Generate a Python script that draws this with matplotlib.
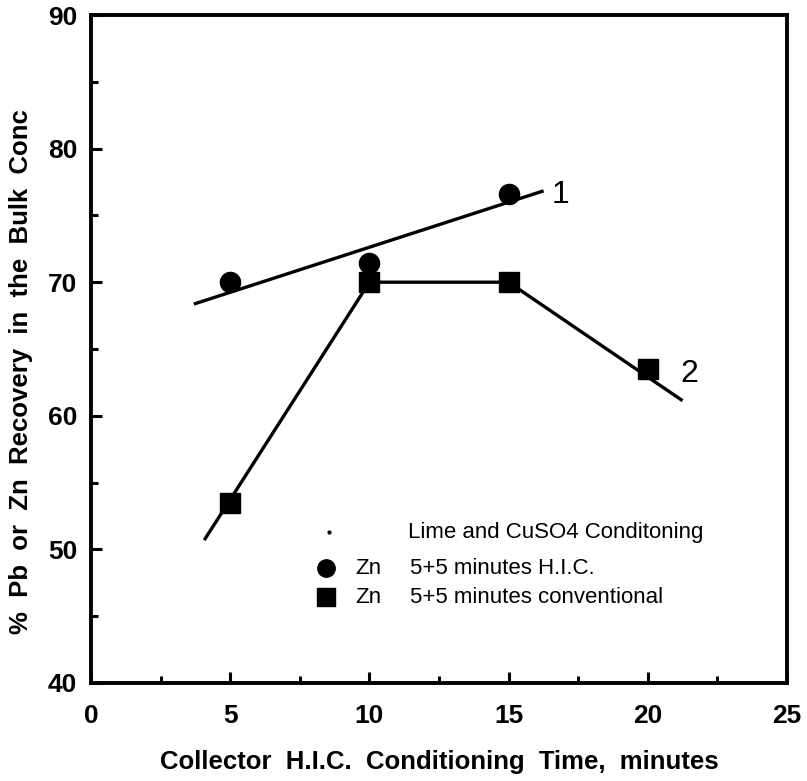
import matplotlib

matplotlib.use("Agg")
import matplotlib.pyplot as plt
from matplotlib.ticker import MultipleLocator

plt.rcParams["font.family"] = ["Liberation Sans", "DejaVu Sans"]

# H.I.C. conditioning (curve 1): measured points and drawn trend line
hic_time = [5, 10, 15]
hic_rec = [70.0, 71.4, 76.6]
hic_fit_x = [3.75, 16.2]
hic_fit_y = [68.4, 76.8]

# conventional conditioning (curve 2): measured points and drawn curve
conv_time = [5, 10, 15, 20]
conv_rec = [53.5, 70.0, 70.0, 63.5]
conv_line_x = [4.1, 10, 15, 21.2]
conv_line_y = [50.8, 70.0, 70.0, 61.2]

fig = plt.figure(figsize=(8.07, 7.81), dpi=100)
ax = fig.add_axes([91 / 807, 1 - 683 / 781, 696 / 807, 668 / 781])

ax.plot(hic_fit_x, hic_fit_y, color="black", lw=2.4)
ax.plot(hic_time, hic_rec, "o", color="black", ms=14.5)
ax.plot(conv_line_x, conv_line_y, color="black", lw=2.4)
ax.plot(conv_time, conv_rec, "s", color="black", ms=14.5)

ax.text(16.88, 76.5, "1", fontsize=23, va="center", ha="center")
ax.text(21.48, 63.1, "2", fontsize=23, va="center", ha="center")

# legend drawn as in the original figure
ax.plot([8.55], [51.3], ".", color="black", ms=4)
ax.text(11.39, 51.3, "Lime and CuSO4 Conditoning", fontsize=16, va="center")
ax.plot([8.44], [48.6], "o", color="black", ms=12.5)
ax.text(9.48, 48.6, "Zn", fontsize=16, va="center")
ax.text(11.46, 48.6, "5+5 minutes H.I.C.", fontsize=16, va="center")
ax.plot([8.44], [46.4], "s", color="black", ms=12.5)
ax.text(9.48, 46.4, "Zn", fontsize=16, va="center")
ax.text(11.46, 46.4, "5+5 minutes conventional", fontsize=16, va="center")

ax.set_xlim(0, 25)
ax.set_ylim(40, 90)
ax.xaxis.set_major_locator(MultipleLocator(5))
ax.xaxis.set_minor_locator(MultipleLocator(2.5))
ax.yaxis.set_major_locator(MultipleLocator(10))
ax.yaxis.set_minor_locator(MultipleLocator(5))
ax.tick_params(which="major", direction="in", length=8, width=2.2, labelsize=19)
ax.tick_params(which="minor", direction="in", length=5, width=2.2)
ax.tick_params(axis="x", pad=15)
ax.tick_params(axis="y", pad=10)
for lab in ax.get_xticklabels() + ax.get_yticklabels():
    lab.set_fontweight("bold")
for sp in ax.spines.values():
    sp.set_linewidth(2.8)

ax.set_xlabel("Collector  H.I.C.  Conditioning  Time,  minutes",
              fontsize=18.5, fontweight="bold", labelpad=16)
ax.set_ylabel("%  Pb  or  Zn  Recovery  in  the  Bulk  Conc",
              fontsize=18.5, fontweight="bold")
ax.yaxis.set_label_coords(-0.084, 0.466)

fig.savefig("out.png", dpi=100)
